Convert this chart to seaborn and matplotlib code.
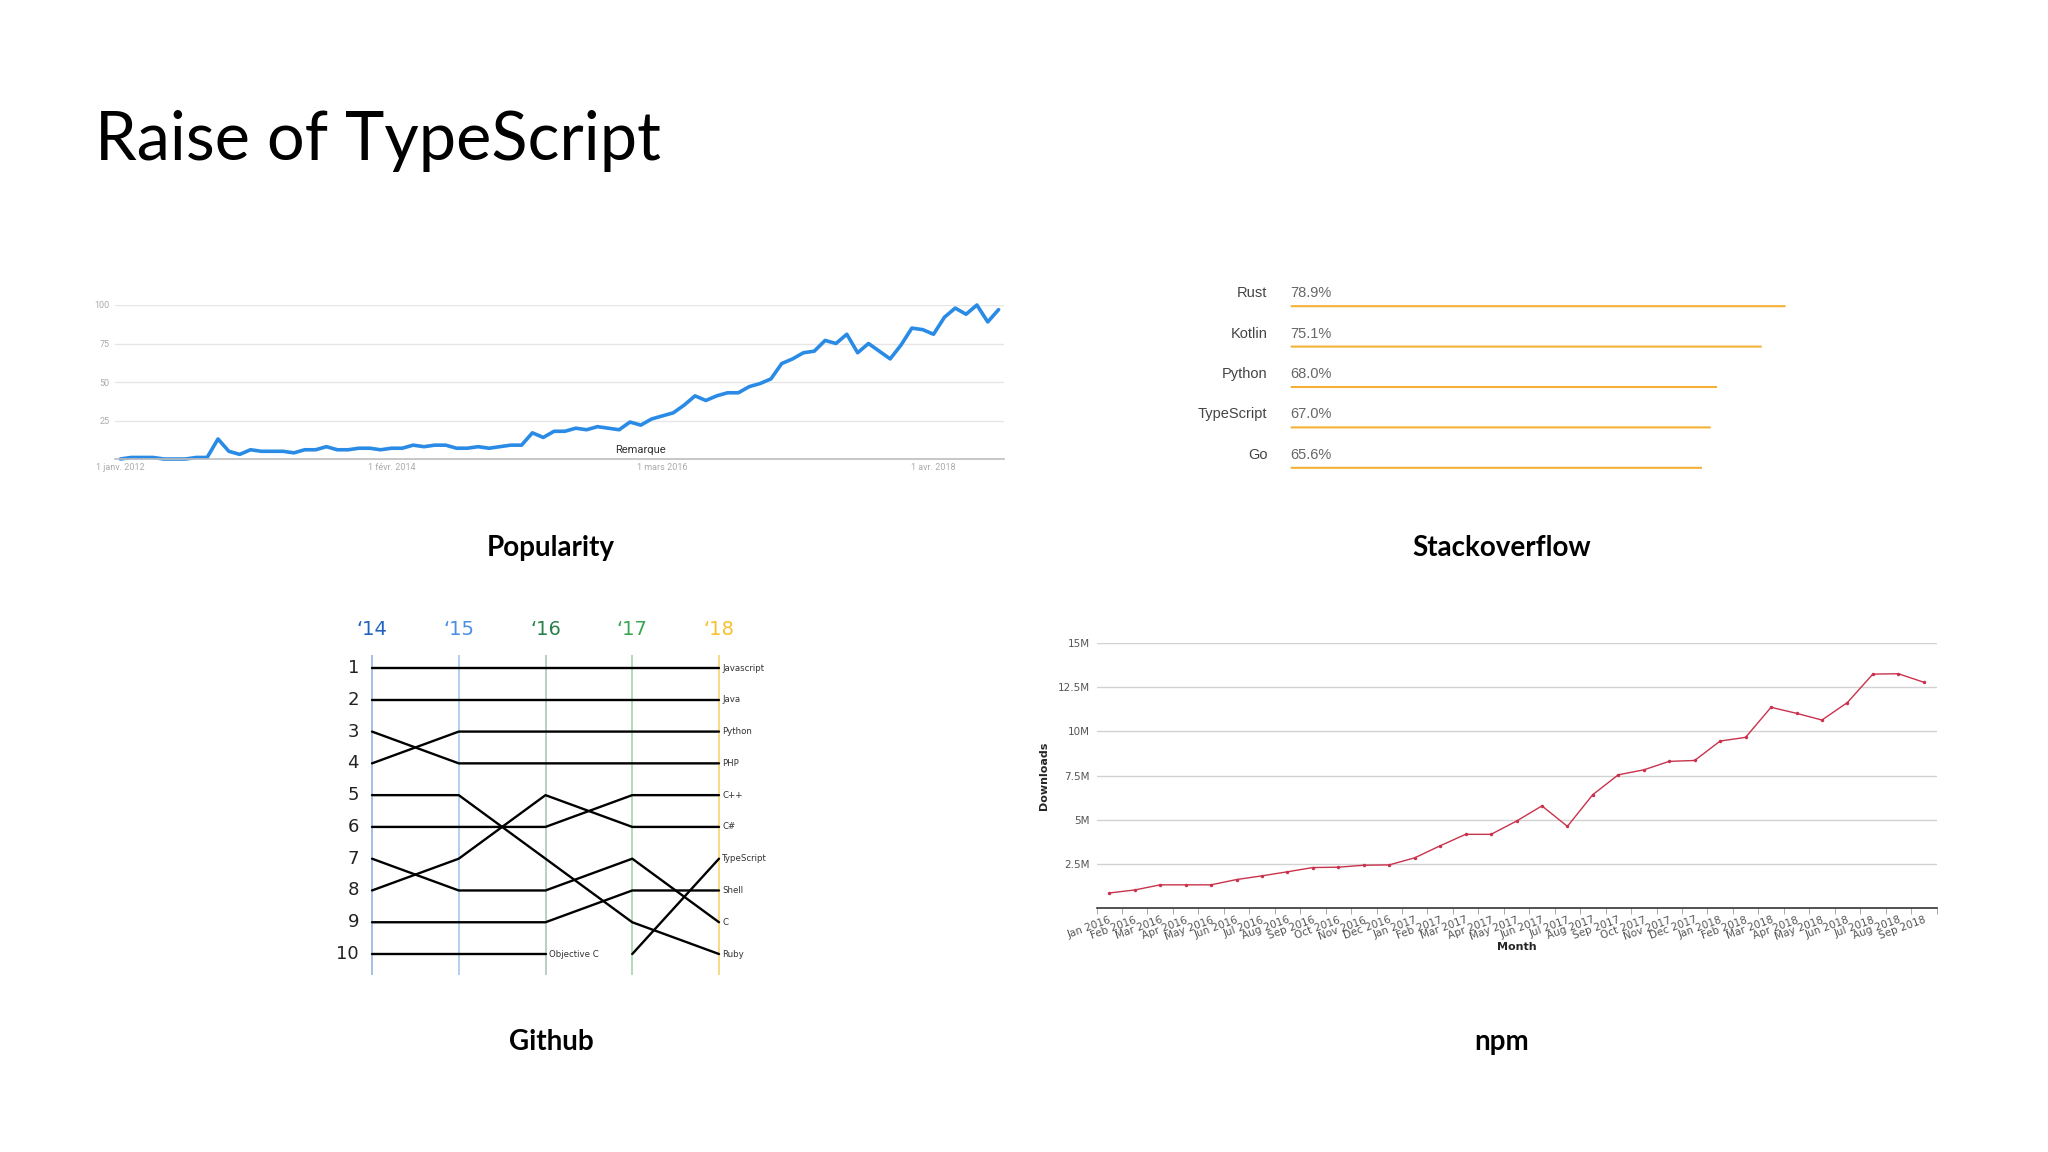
import numpy as np
import pandas as pd
import seaborn as sns
import matplotlib.pyplot as plt


# POPULARITY (google trends, one value per month, jan 2012 -> oct 2018)
trend_values = [0, 1, 1, 1, 0, 0, 0, 1, 1, 13, 5, 3, 6, 5, 5, 5, 4, 6, 6, 8, 6,
                6, 7, 7, 6, 7, 7, 9, 8, 9, 9, 7, 7, 8, 7, 8, 9, 9, 17, 14, 18, 18,
                20, 19, 21, 20, 19, 24, 22, 26, 28, 30, 35, 41, 38, 41, 43, 43,
                47, 49, 52, 62, 65, 69, 70, 77, 75, 81, 69, 75, 70, 65, 74, 85,
                84, 81, 92, 98, 94, 100, 89, 97]
trend_ticks = [0, 25, 50, 75]
trend_tick_labels = ['1 janv. 2012', '1 févr. 2014', '1 mars 2016', '1 avr. 2018']
trend_note_month = 48

# STACKOVERFLOW most loved
so_languages = ['Rust', 'Kotlin', 'Python', 'TypeScript', 'Go']
so_loved = [78.9, 75.1, 68.0, 67.0, 65.6]

# GITHUB ranks ('14 -> '18), None = not in top 10
gh_years = [2014, 2015, 2016, 2017, 2018]
gh_year_labels = ['‘14', '‘15', '‘16', '‘17', '‘18']
gh_year_colors = ['#1f63c0', '#4a8fe6', '#2a8049', '#3aa650', '#f6c12f']
gh_line_colors = ['#9dbbe3', '#aecbef', '#b3ccbd', '#a9d9b1', '#f7d87c']
rank_javascript = [1, 1, 1, 1, 1]
rank_java = [2, 2, 2, 2, 2]
rank_python = [4, 3, 3, 3, 3]
rank_php = [3, 4, 4, 4, 4]
rank_cpp = [6, 6, 6, 5, 5]
rank_csharp = [8, 7, 5, 6, 6]
rank_typescript = [None, None, None, 10, 7]
rank_shell = [9, 9, 9, 8, 8]
rank_c = [7, 8, 8, 7, 9]
rank_ruby = [5, 5, 7, 9, 10]
rank_objc = [10, 10, 10, None, None]

# NPM monthly downloads (millions), jan 2016 -> sep 2018
npm_downloads = [0.85, 1.02, 1.31, 1.31, 1.31, 1.61, 1.82, 2.05, 2.29, 2.31, 2.42, 2.44,
                 2.84, 3.52, 4.17, 4.17, 4.92, 5.78, 4.62, 6.42, 7.54, 7.82, 8.30, 8.35,
                 9.45, 9.66, 11.36, 11.02, 10.64, 11.63, 13.24, 13.26, 12.78]
month_names = ['Jan', 'Feb', 'Mar', 'Apr', 'May', 'Jun', 'Jul', 'Aug', 'Sep', 'Oct', 'Nov', 'Dec']
npm_months = [f'{m} {y}' for y in (2016, 2017, 2018) for m in month_names][:len(npm_downloads)]
npm_yticks = [2.5, 5, 7.5, 10, 12.5, 15]
npm_ytick_labels = ['2.5M', '5M', '7.5M', '10M', '12.5M', '15M']


sns.set_style('white')
plt.rcParams['font.family'] = ['DejaVu Sans']

W, H = 2048, 1152
fig = plt.figure(figsize=(W / 100, H / 100), dpi=100)
fig.patch.set_facecolor('white')


def px_axes(left, top, right, bottom):
    # place an axes from pixel coords of the slide
    return fig.add_axes([left / W, 1 - bottom / H, (right - left) / W, (bottom - top) / H])


# TITLE + SUBTITLES
fig.text(95 / W, 1 - 160 / H, 'Raise of TypeScript', fontsize=48, family='Lato',
         va='baseline', ha='left', color='black')
for label, cx, cy in [('Popularity', 551, 548), ('Stackoverflow', 1502, 548),
                      ('Github', 551, 1042), ('npm', 1502, 1042)]:
    fig.text(cx / W, 1 - cy / H, label, fontsize=20, family='Lato', weight='bold',
             ha='center', va='center', color='black')


# POPULARITY
ax = px_axes(115, 305, 1004, 459)
sns.lineplot(x=np.arange(len(trend_values)), y=trend_values, ax=ax, color='#2a8be6',
             lw=2.6, clip_on=False)
ax.set_xlim(-0.5, len(trend_values) - 0.5)
ax.set_ylim(0, 100)
ax.set_yticks([25, 50, 75, 100])
ax.set_xticks(trend_ticks, trend_tick_labels)
ax.tick_params(axis='both', length=0, labelsize=6.5, labelcolor='#ababab')
ax.tick_params(axis='y', pad=4)
ax.tick_params(axis='x', pad=3)
for t in ax.get_xticklabels() + ax.get_yticklabels():
    t.set_family('Roboto')
ax.grid(axis='y', color='#e6e6e6', lw=1)
for s in ['top', 'left', 'right']:
    ax.spines[s].set_visible(False)
ax.spines['bottom'].set_color('#bdbdbd')
ax.spines['bottom'].set_linewidth(1.2)
ax.text(trend_note_month, 6, 'Remarque', ha='center', va='center', fontsize=8,
        family='Roboto', color='#333333')


# STACKOVERFLOW
ax = px_axes(1290, 286, 1919, 488)
sns.barplot(x=so_loved, y=so_languages, orient='h', ax=ax, color='#f5b033',
            width=0.085, saturation=1)
for p in ax.patches:
    p.set_snap(False)
ax.set_xlim(0, 100)
ax.set_ylim(4.5, -0.5)
ax.axis('off')
for i, (lang, val) in enumerate(zip(so_languages, so_loved)):
    ax.text(0, i - 0.32, f'{val:.1f}%', ha='left', va='center', fontsize=10.5,
            family='Liberation Sans', color='#666666')
    ax.text(-3.6, i - 0.32, lang, ha='right', va='center', fontsize=10.5,
            family='Liberation Sans', color='#444444')


# GITHUB
ranks = {
    'Javascript': rank_javascript, 'Java': rank_java, 'Python': rank_python,
    'PHP': rank_php, 'C++': rank_cpp, 'C#': rank_csharp,
    'TypeScript': rank_typescript, 'Shell': rank_shell, 'C': rank_c,
    'Ruby': rank_ruby, 'Objective C': rank_objc,
}
gh_df = pd.DataFrame([(lang, y, r) for lang, rs in ranks.items()
                      for y, r in zip(gh_years, rs)], columns=['language', 'year', 'rank'])
gh_df = gh_df.dropna()

ax = px_axes(354.65, 655, 736.35, 975)
for y, c in zip(gh_years, gh_line_colors):
    ax.axvline(y, color=c, lw=1.3, zorder=0)
sns.lineplot(data=gh_df, x='year', y='rank', units='language', estimator=None,
             color='black', lw=1.7, ax=ax, zorder=2)
ax.set_xlim(2013.8, 2018.2)
ax.set_ylim(10.66, 0.59)
ax.axis('off')
for r in range(1, 11):
    ax.text(2013.85, r, str(r), ha='right', va='center', fontsize=13, color='#222222')
for y, lab, c in zip(gh_years, gh_year_labels, gh_year_colors):
    ax.text(y, -0.2, lab, ha='center', va='center', fontsize=14, color=c)
last = gh_df.sort_values('year').groupby('language').last()
for lang, row in last.iterrows():
    ax.text(row['year'] + 0.04, row['rank'], lang, ha='left', va='center',
            fontsize=6.2, color='#333333')


# NPM
ax = px_axes(1096.5, 643, 1936.5, 908)
sns.lineplot(x=np.arange(len(npm_downloads)), y=npm_downloads, ax=ax, color='#c9324c',
             lw=1, marker='o', markersize=2.5, markeredgewidth=0)
ax.set_xlim(-0.5, len(npm_downloads) - 0.5)
ax.set_ylim(0, 15)
ax.set_yticks(npm_yticks, npm_ytick_labels)
ax.set_xticks(np.arange(len(npm_months)), npm_months)
ax.set_xticks(np.arange(len(npm_months) + 1) - 0.5, minor=True)
ax.tick_params(axis='y', length=0, pad=5, labelsize=7.5, labelcolor='#555555')
ax.tick_params(axis='x', which='major', length=0, pad=5, labelsize=7.5, labelcolor='#555555')
ax.tick_params(axis='x', which='minor', length=4, color='#999999', bottom=True)
for t in ax.get_xticklabels():
    t.set_rotation(20)
    t.set_ha('right')
    t.set_rotation_mode('anchor')
ax.grid(axis='y', color='#d2d2d2', lw=1)
for s in ['top', 'left', 'right']:
    ax.spines[s].set_visible(False)
ax.spines['bottom'].set_color('#333333')
ax.spines['bottom'].set_linewidth(1.2)
ax.set_ylabel('Downloads', fontsize=8, weight='bold')
ax.yaxis.set_label_coords(-0.056, 0.5)
ax.set_xlabel('Month', fontsize=8, weight='bold', va='top')
ax.xaxis.set_label_coords(0.5, -0.128)

fig.savefig('out.png', dpi=100)
